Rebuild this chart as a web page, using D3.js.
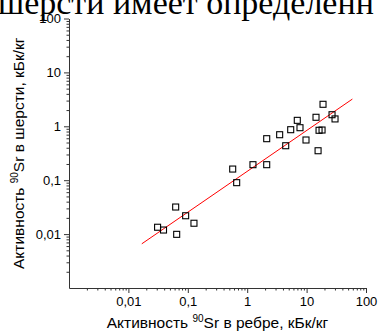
<!DOCTYPE html>
<html>
<head>
<meta charset="utf-8">
<script src="https://cdn.jsdelivr.net/npm/d3@7"></script>
<style>
  body { margin: 0; background: #fff; overflow: hidden; }
  svg { display: block; }
</style>
</head>
<body>
<div id="chart"></div>
<script>
// Активность 90Sr: ребро (x) и шерсть (y), кБк/кг
const ribValues = [0.031, 0.039, 0.0625, 0.092, 0.127, 0.065, 0.57, 0.665, 1.25, 2.13, 2.13, 3.52,
    4.45, 5.4, 6.97, 7.74, 9.77, 14.4, 15.6, 16.2, 18.2, 26.8, 30.1, 18.9];
const woolValues = [0.0134, 0.0119, 0.0318, 0.0219, 0.0159, 0.0099, 0.161, 0.09, 0.194, 0.589, 0.194, 0.698,
    0.436, 0.865, 1.29, 0.942, 0.557, 1.47, 0.352, 0.843, 0.853, 1.64, 1.37, 2.56];

// линия регрессии (концы)
const fitX = [0.0168, 59];
const fitY = [0.0066, 3.2];

const xTicks = [0.01, 0.1, 1, 10, 100];
const yTicks = [0.01, 0.1, 1, 10, 100];
const fmt = d => String(d).replace(".", ",");

const width = 380;
const height = 331;
const margin = {left: 69, right: 14, top: 18.5, bottom: 43};

const svg = d3.select("#chart")
    .append("svg")
    .attr("width", width)
    .attr("height", height);

// обрезанный кусок текста статьи сверху
svg.append("text")
    .attr("x", -2)
    .attr("y", 13.5)
    .style("font-family", "'Liberation Serif', 'Times New Roman', serif")
    .style("font-size", "34px")
    .text("шерсти имеет определенн");

const x = d3.scaleLog()
    .domain([0.001, 100])
    .range([margin.left, width - margin.right]);

const y = d3.scaleLog()
    .domain([0.001, 100])
    .range([height - margin.bottom, margin.top]);

// минорные деления 2..9
const minor = [];
for (let e = -3; e < 2; e++) {
    for (let k = 2; k <= 9; k++) minor.push(k * Math.pow(10, e));
}

const axisStyle = g => {
    g.selectAll("path, line").attr("stroke", "#333").attr("stroke-width", 1);
    g.selectAll("text")
        .style("font-family", "'Liberation Sans', Arial, sans-serif")
        .style("font-size", "13px")
        .attr("fill", "#000");
};

svg.append("g")
    .attr("transform", `translate(0,${height - margin.bottom})`)
    .call(d3.axisBottom(x).tickValues(minor).tickSize(2.5).tickFormat("").tickSizeOuter(0))
    .call(axisStyle);

svg.append("g")
    .attr("transform", `translate(0,${height - margin.bottom})`)
    .call(d3.axisBottom(x).tickValues(xTicks).tickSize(5).tickFormat(fmt).tickSizeOuter(0).tickPadding(4))
    .call(axisStyle)
    .call(g => g.select(".domain").remove());

svg.append("g")
    .attr("transform", `translate(${margin.left},0)`)
    .call(d3.axisLeft(y).tickValues(minor).tickSize(2.5).tickFormat("").tickSizeOuter(0))
    .call(axisStyle);

svg.append("g")
    .attr("transform", `translate(${margin.left},0)`)
    .call(d3.axisLeft(y).tickValues(yTicks).tickSize(5).tickFormat(fmt).tickSizeOuter(0).tickPadding(3))
    .call(axisStyle)
    .call(g => g.select(".domain").remove());

// линия регрессии
svg.append("line")
    .attr("x1", x(fitX[0]))
    .attr("y1", y(fitY[0]))
    .attr("x2", x(fitX[1]))
    .attr("y2", y(fitY[1]))
    .attr("stroke", "red")
    .attr("stroke-width", 1);

// точки
const s = 6;
svg.append("g")
    .selectAll("rect")
    .data(ribValues.map((v, i) => [v, woolValues[i]]))
    .enter()
    .append("rect")
    .attr("x", d => x(d[0]) - s / 2)
    .attr("y", d => y(d[1]) - s / 2)
    .attr("width", s)
    .attr("height", s)
    .attr("fill", "none")
    .attr("stroke", "#000")
    .attr("stroke-width", 1.1);

// подписи осей
const titleFont = "'Liberation Sans', Arial, sans-serif";

const xTitle = svg.append("text")
    .attr("x", (margin.left + width - margin.right) / 2)
    .attr("y", 328)
    .attr("text-anchor", "middle")
    .style("font-family", titleFont)
    .style("font-size", "15.5px");
xTitle.append("tspan").text("Активность ");
xTitle.append("tspan").attr("dy", -6).style("font-size", "10px").text("90");
xTitle.append("tspan").attr("dy", 6).text("Sr в ребре, кБк/кг");

const yTitle = svg.append("text")
    .attr("transform", `translate(24,${(margin.top + height - margin.bottom) / 2}) rotate(-90)`)
    .attr("text-anchor", "middle")
    .style("font-family", titleFont)
    .style("font-size", "15.5px");
yTitle.append("tspan").text("Активность ");
yTitle.append("tspan").attr("dy", -6).style("font-size", "10px").text("90");
yTitle.append("tspan").attr("dy", 6).text("Sr в шерсти, кБк/кг");
</script>
</body>
</html>
